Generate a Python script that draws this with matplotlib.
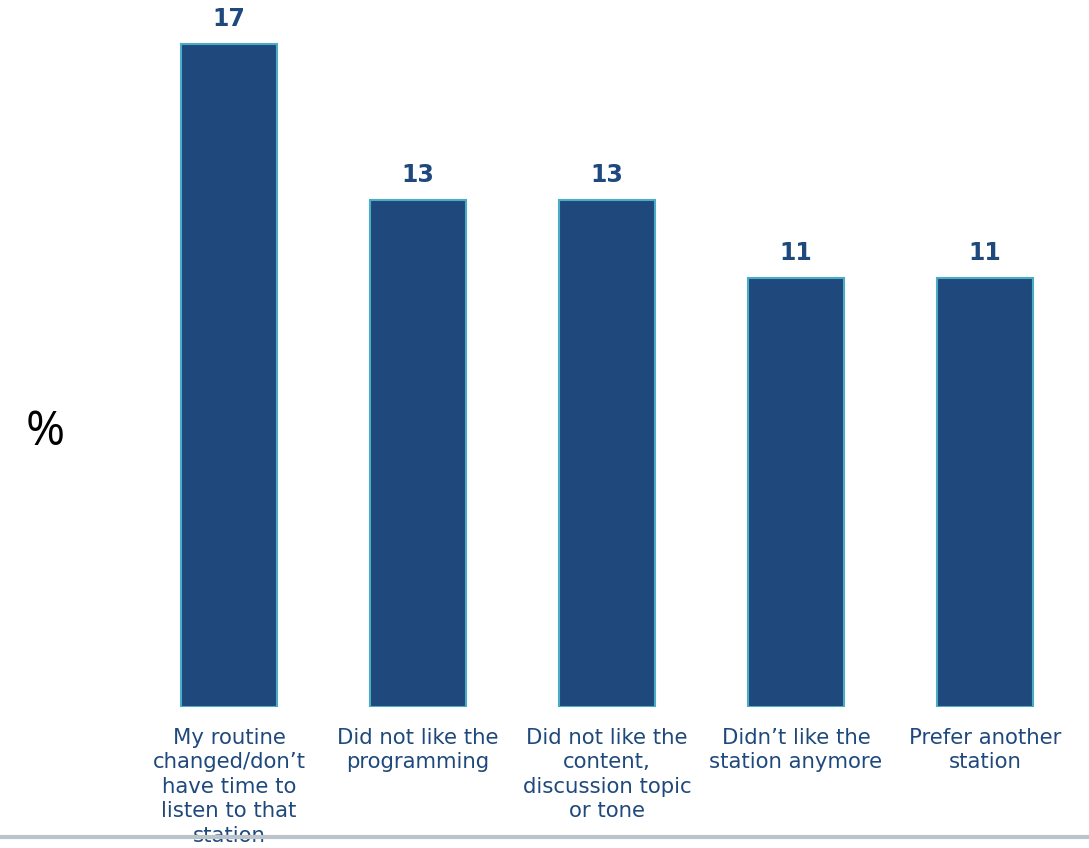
import matplotlib
matplotlib.use('Agg')
import matplotlib.pyplot as plt
from matplotlib.lines import Line2D

# Datos
categorias = ['My routine\nchanged/don\u2019t\nhave time to\nlisten to that\nstation',
              'Did not like the\nprogramming',
              'Did not like the\ncontent,\ndiscussion topic\nor tone',
              'Didn\u2019t like the\nstation anymore',
              'Prefer another\nstation']
valores = [17, 13, 13, 11, 11]

azul = '#1f497d'
borde = '#4bacc6'
texto = '#1f497d'

fig = plt.figure(figsize=(10.89, 8.48), dpi=100)
ax = fig.add_axes([134.5 / 1089, 141 / 848, 945 / 1089, 702 / 848])

x = range(len(valores))
barras = ax.bar(x, valores, width=0.513, color=azul, edgecolor=borde, linewidth=1.5)

# Etiquetas de valor
for xi, v in zip(x, valores):
    ax.annotate(str(v), (xi, v), xytext=(0, 9), textcoords='offset points',
                ha='center', va='bottom', fontsize=17, fontweight='bold',
                color=texto, family='DejaVu Sans')

ax.set_xlim(-0.5, 4.5)
ax.set_ylim(0, 18)
ax.set_xticks(list(x))
ax.set_xticklabels(categorias, fontsize=15.3, color=texto, linespacing=1.28,
                   family='DejaVu Sans')
ax.tick_params(axis='x', length=0, pad=15)
ax.set_yticks([])
for s in ax.spines.values():
    s.set_visible(False)

# Simbolo de porcentaje
fig.text(45 / 1089, 1 - 432 / 848, '%', fontsize=34, ha='center', va='center',
         color='black', family='Open Sans')

# Linea gris inferior
fig.add_artist(Line2D([0, 1], [1 - 837 / 848, 1 - 837 / 848],
                      transform=fig.transFigure, color='#bcc3cb', linewidth=3))

plt.savefig('out.png', dpi=100)
